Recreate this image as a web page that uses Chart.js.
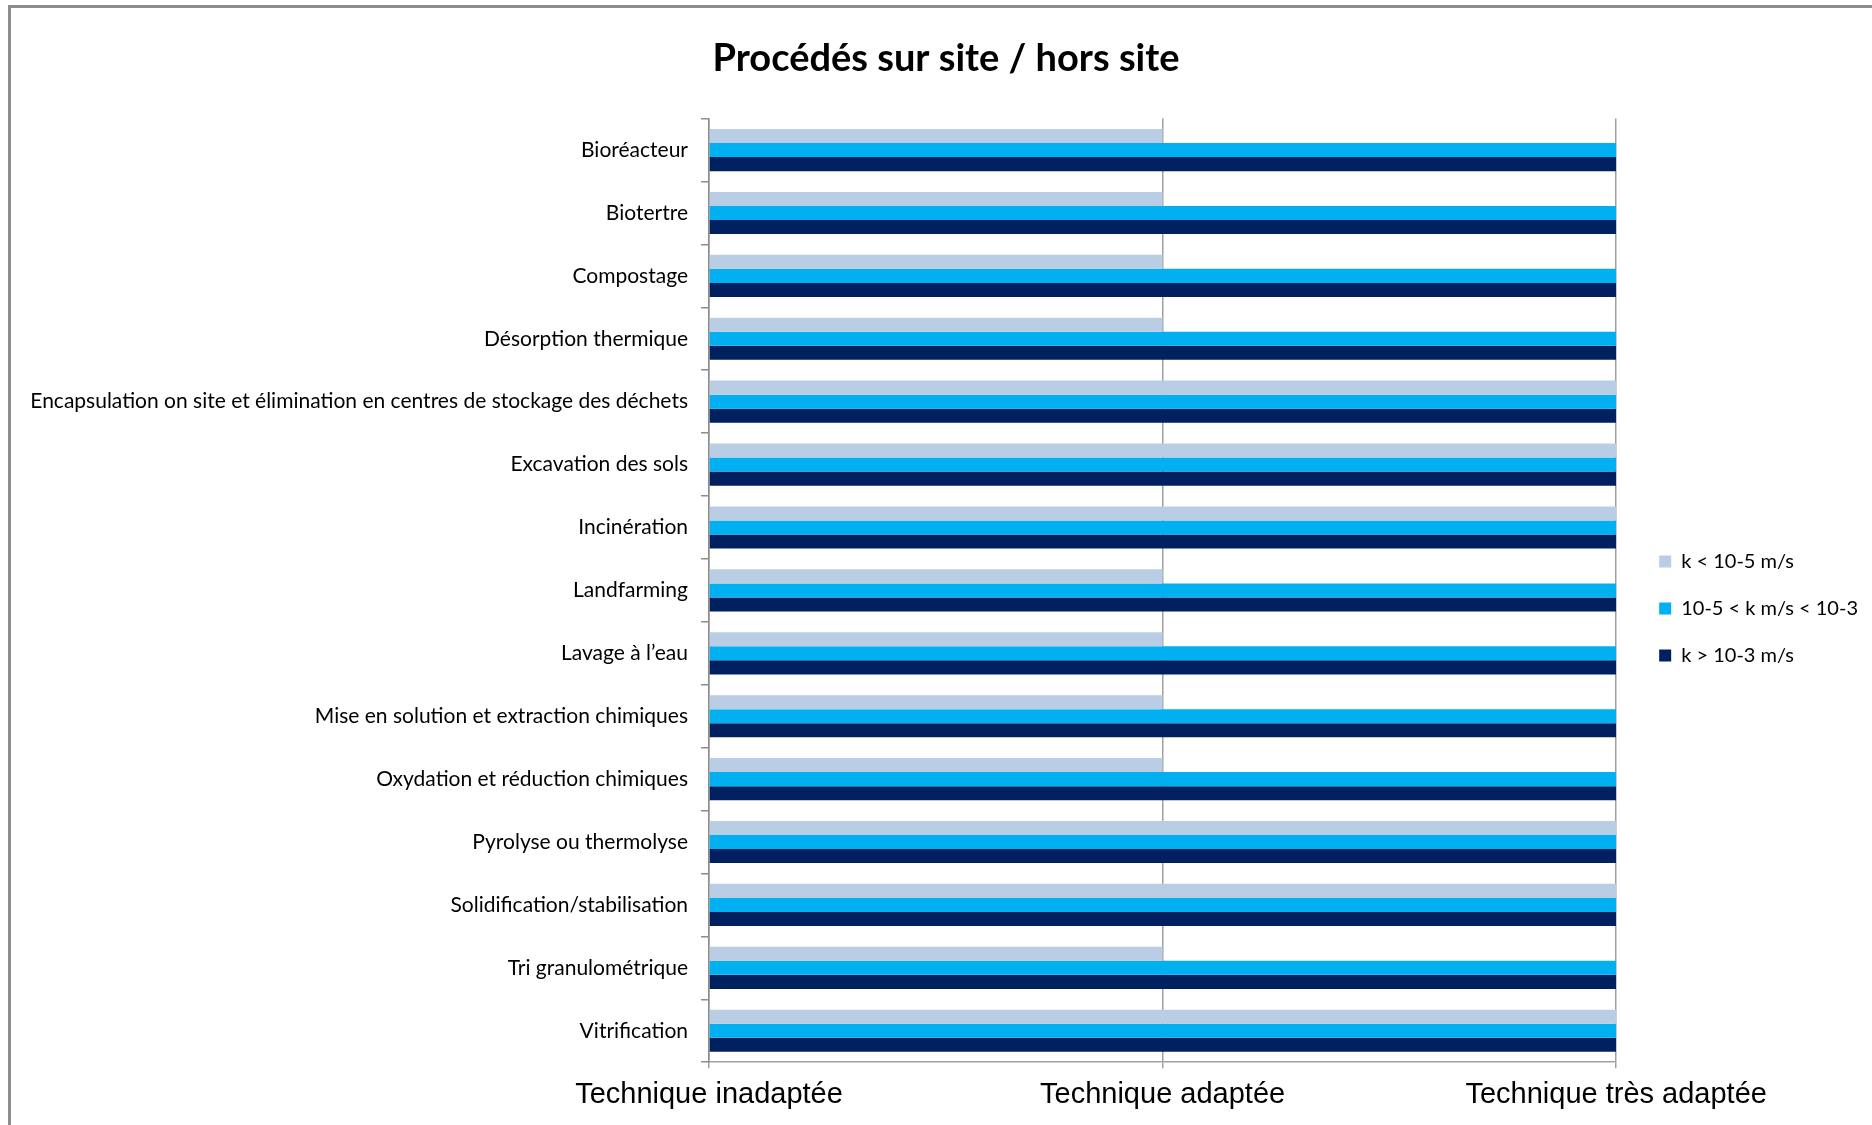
<!DOCTYPE html>
<html>
<head>
<meta charset="utf-8">
<script src="https://cdn.jsdelivr.net/npm/chart.js@4"></script>
<style>
  html, body { margin: 0; padding: 0; background: #fff; }
  #wrap { position: relative; width: 1872px; height: 1125px; overflow: hidden; }
  #frame {
    position: absolute; left: 8px; top: 5px; right: -10px; bottom: -10px;
    border-left: 3px solid #8c8c8c; border-top: 3px solid #8c8c8c;
    pointer-events: none;
  }
</style>
</head>
<body>
<div id="wrap">
  <canvas id="chart-procedes" width="1872" height="1125"></canvas>
  <div id="frame"></div>
</div>
<script>
  /*
    ==================================================
    ===================== DONNEES ====================
    ==================================================
  */

  let procedes = [
    "Bioréacteur",
    "Biotertre",
    "Compostage",
    "Désorption thermique",
    "Encapsulation on site et élimination en centres de stockage des déchets",
    "Excavation des sols",
    "Incinération",
    "Landfarming",
    "Lavage à l\u2019eau",
    "Mise en solution et extraction chimiques",
    "Oxydation et réduction chimiques",
    "Pyrolyse ou thermolyse",
    "Solidification/stabilisation",
    "Tri granulométrique",
    "Vitrification"
  ];

  let seriesLabels = ["k < 10-5 m/s", "10-5 < k m/s < 10-3", "k > 10-3 m/s"];

  // 0 = inadaptée, 1 = adaptée, 2 = très adaptée
  let kFaible = [1, 1, 1, 1, 2, 2, 2, 1, 1, 1, 1, 2, 2, 1, 2];
  let kMoyen  = [2, 2, 2, 2, 2, 2, 2, 2, 2, 2, 2, 2, 2, 2, 2];
  let kFort   = [2, 2, 2, 2, 2, 2, 2, 2, 2, 2, 2, 2, 2, 2, 2];

  let niveaux = ["Technique inadaptée", "Technique adaptée", "Technique très adaptée"];

  let couleurs = ["#B9CDE5", "#00B0F0", "#002060"];

  /*
    ==================================================
    ===================== GRAPHIQUE ==================
    ==================================================
  */

  /** @type {CanvasRenderingContext2D} */
  let ctx = document.getElementById("chart-procedes").getContext("2d");

  let calibri = "Lato, 'Noto Sans', sans-serif";

  let chartProcedes = new Chart(ctx, {
    type: "bar",
    data: {
      labels: procedes,
      datasets: [kFaible, kMoyen, kFort].map((data, i) => ({
        label: seriesLabels[i],
        backgroundColor: couleurs[i],
        borderWidth: 0,
        data: data
      }))
    },
    options: {
      indexAxis: "y",
      responsive: false,
      animation: false,
      devicePixelRatio: 1,
      categoryPercentage: 0.67,
      barPercentage: 1,
      layout: { padding: { left: 24, right: 4, top: 10, bottom: 4 } },
      plugins: {
        tooltip: { enabled: false },
        title: {
          display: true,
          text: "Procédés sur site / hors site",
          color: "#000",
          font: { family: calibri, size: 38, weight: "bold" },
          padding: { top: 26, bottom: 37 }
        },
        legend: {
          position: "right",
          fullSize: false,
          align: "center",
          maxWidth: 236,
          title: {
            display: true,
            text: " ",
            font: { size: 12 },
            padding: { top: 0, bottom: 22 }
          },
          labels: {
            boxWidth: 12,
            boxHeight: 12,
            padding: 27,
            color: "#000",
            font: { family: calibri, size: 20 }
          }
        }
      },
      scales: {
        x: {
          min: 0,
          max: 2,
          ticks: {
            stepSize: 1,
            padding: 9,
            color: "#000",
            font: { family: "'Liberation Sans', Arial, sans-serif", size: 29 },
            callback: (v) => niveaux[v] ?? ""
          },
          grid: { color: "#A0A0A0", lineWidth: 1.5, tickLength: 6 },
          border: { color: "#A0A0A0", width: 1.5 }
        },
        y: {
          grid: {
            offset: true,
            drawOnChartArea: false,
            tickLength: 8,
            color: "#8c8c8c",
            lineWidth: 1.5
          },
          border: { color: "#8c8c8c", width: 1.5 },
          ticks: {
            padding: 13,
            color: "#000",
            font: { family: calibri, size: 21 }
          },
          // la largeur par défaut est plafonnée, les libellés longs seraient coupés
          afterFit: (scale) => { scale.width = 685; }
        },
        y2: {
          type: "category",
          position: "right",
          grid: { display: false },
          border: { display: false },
          ticks: { display: false },
          afterFit: (scale) => { scale.width = 16; }
        }
      }
    }
  });
</script>
</body>
</html>
